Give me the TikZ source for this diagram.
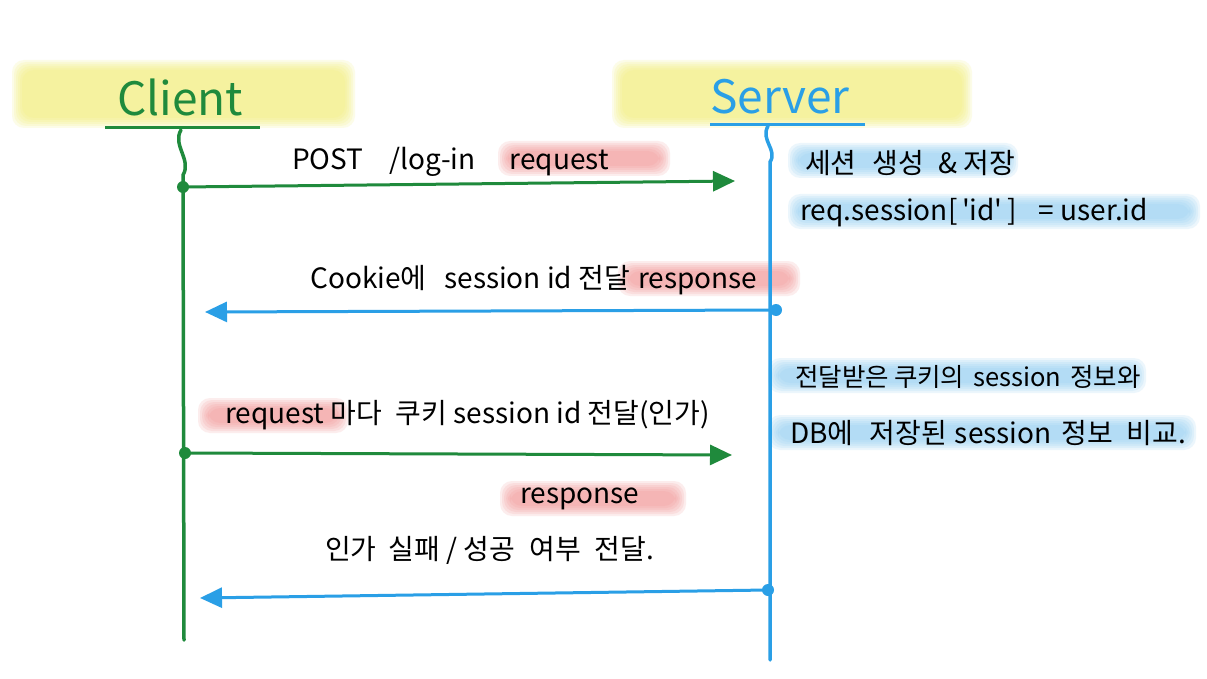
\documentclass[tikz,border=0pt]{standalone}
\usepackage{fontspec}
\setmainfont{Noto Sans CJK KR}
\usetikzlibrary{arrows.meta}
\definecolor{cgreen}{HTML}{1F8A3C}
\definecolor{cblue}{HTML}{2A9FE6}
\definecolor{hlyellow}{HTML}{F2EE70}
\definecolor{hlred}{HTML}{F29090}
\definecolor{hlblue}{HTML}{8ECCF2}
\newcommand\softhl[5]{%
  \foreach \e in {10,8,6,4,2,0}{%
    \fill[#1,opacity=0.16,rounded corners=12] ({#2-\e},{#3-\e}) rectangle ({#4+\e},{#5+\e});}}
\begin{document}
\begin{tikzpicture}[x=1pt,y=-1pt,
  txt/.style={font=\fontsize{28}{32}\selectfont, inner sep=0pt, anchor=west},
  head/.style={font=\fontsize{46}{52}\selectfont, inner sep=0pt},
  life/.style={line width=3.5pt, line cap=round},
  msg/.style={line width=3pt, -{Triangle[length=22pt,width=20pt]}},
  dot/.style={circle, inner sep=0pt, minimum size=12pt}]
\useasboundingbox (0,0) rectangle (1207,679);
\fill[white] (0,0) rectangle (1207,679);
% header highlights
\softhl{hlyellow}{22}{70}{345}{118}
\softhl{hlyellow}{622}{70}{962}{118}
% text highlights
\softhl{hlred}{508}{151}{660}{166}
\softhl{hlred}{628}{271}{790}{286}
\softhl{hlred}{208}{408}{338}{423}
\softhl{hlred}{510}{491}{676}{506}
\softhl{hlblue}{798}{153}{1008}{168}
\softhl{hlblue}{798}{204}{1190}{219}
\softhl{hlblue}{778}{368}{1136}{383}
\softhl{hlblue}{778}{425}{1186}{440}
% headers
\node[head, text=cgreen] (client) at (180,97) {Client};
\node[head, text=cblue] (server) at (780,97) {Server};
\draw[cgreen, line width=3pt] (105,128) -- (260,128);
\draw[cblue, line width=3pt] (710,125) -- (865,125);
% lifeline coordinates
\coordinate (ctop) at (181,130);
\coordinate (cbot) at (184,640);
\coordinate (stop) at (768,126);
\coordinate (sbot) at (770,660);
\draw[life, cgreen] (ctop) .. controls (172,145) and (192,160) .. (183,175) -- (cbot);
\draw[life, cblue] (stop) .. controls (760,140) and (778,150) .. (770,162) -- (sbot);
% message endpoints
\node[dot, fill=cgreen] (c1) at (183,187) {};
\coordinate (s1) at (735,181);
\node[dot, fill=cblue] (s2) at (776,310) {};
\coordinate (c2) at (205,312);
\node[dot, fill=cgreen] (c3) at (185,453) {};
\coordinate (s3) at (732,455);
\node[dot, fill=cblue] (s4) at (768,590) {};
\coordinate (c4) at (200,598);
\draw[msg, cgreen] (c1.center) -- (s1);
\draw[msg, cblue] (s2.center) -- (c2);
\draw[msg, cgreen] (c3.center) -- (s3);
\draw[msg, cblue] (s4.center) -- (c4);
% labels
\node[txt] (l1) at (292,162) {POST\hspace{26pt}/log-in\hspace{34pt}request};
\node[txt] (l2) at (310,280) {Cookie에\hspace{18pt}session id 전달\hspace{8pt}response};
\node[txt] (l3) at (225,415) {request 마다\hspace{14pt}쿠키 session id 전달(인가)};
\node[txt] (l4) at (520,499) {response};
\node[txt] (l5) at (325,550) {인가\hspace{12pt}실패 / 성공\hspace{14pt}여부\hspace{14pt}전달.};
\node[txt] (n1) at (805,163) {세션\hspace{16pt}생성\hspace{14pt}\& 저장};
\node[txt] (n2) at (800,213) {req.session[\,\textquotesingle id\textquotesingle\,]\hspace{22pt}=\hspace{6pt}user.id};
\node[txt, font=\fontsize{25.5}{30}\selectfont] (n3) at (795,377) {전달받은\hspace{5pt}쿠키의\hspace{9pt}session\hspace{9pt}정보와};
\node[txt] (n4) at (790,433) {DB에\hspace{16pt}저장된\hspace{8pt}session\hspace{10pt}정보\hspace{14pt}비교.};
\end{tikzpicture}
\end{document}
